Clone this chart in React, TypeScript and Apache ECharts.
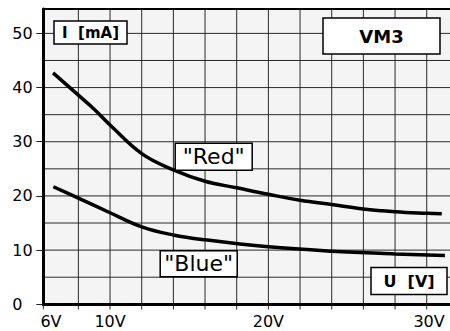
import React, { useEffect, useRef } from "react";
import * as echarts from "echarts";

// Data
const redCurve: [number, number][] = [
  [6.4, 42.7], [8, 38.6], [9, 36.0], [10, 33.1], [12, 27.8], [14, 24.8],
  [16, 22.7], [18, 21.5], [20, 20.3], [22, 19.2], [24, 18.4], [26, 17.6],
  [28, 17.1], [30, 16.8], [30.95, 16.7],
];
const blueCurve: [number, number][] = [
  [6.42, 21.7], [8, 19.6], [10, 16.9], [12, 14.3], [14, 12.8], [16, 11.9],
  [20, 10.6], [24, 9.8], [28, 9.3], [31.15, 9.0],
];
const xTickValues = [5.785, 8, 10, 12, 14, 16, 18, 20, 22, 24, 26, 28, 30];
const yGridValues = [5, 10, 15, 20, 25, 30, 35, 40, 45, 50];
const xLabelPositions = [6.27, 10, 20, 30.15];
const xLabelTexts = ["6V", "10V", "20V", "30V"];
const yTickValues = [0, 10, 20, 30, 40, 50];
const xMin = 5.785;
const xMax = 31.47;
const yMin = 0;
const yMax = 54.5;
const xTickBelow = -0.95;

const FONT = '"DejaVu Sans", sans-serif';
const GRID_LEFT = 43.3;
const GRID_TOP = 9;
const GRID_BOTTOM = 26.7;
const GRID_COLOR = "#2a2a2a";

function box(cx: number, cy: number, w: number, h: number, text: string, font: string) {
  return {
    type: "group",
    children: [
      {
        type: "rect",
        shape: { x: cx - w / 2, y: cy - h / 2, width: w, height: h },
        style: { fill: "#ffffff", stroke: "#000000", lineWidth: 1.5 },
        z: 10,
      },
      {
        type: "text",
        x: cx,
        y: cy,
        style: {
          text,
          font,
          fill: "#000000",
          align: "center",
          verticalAlign: "middle",
          textAlign: "center",
          textVerticalAlign: "middle",
        },
        z: 11,
      },
    ],
  };
}

function gridLineSeries(data: [number, number][]) {
  return {
    type: "line",
    data,
    symbol: "none",
    showSymbol: false,
    silent: true,
    clip: false,
    smooth: false,
    emphasis: { disabled: true },
    lineStyle: { color: GRID_COLOR, width: 1 },
    z: 2,
  };
}

export default function App() {
  const ref = useRef<HTMLDivElement>(null);
  useEffect(() => {
    if (!ref.current) return;
    const chart = echarts.init(ref.current, null, { renderer: "svg" });
    const vGrid = xTickValues.map((v) =>
      gridLineSeries([
        [v, xTickBelow],
        [v, yMax],
      ])
    );
    const hGrid = yGridValues.map((h) =>
      gridLineSeries([
        [xMin, h],
        [xMax, h],
      ])
    );
    const option: any = {
      animation: false,
      grid: {
        left: GRID_LEFT,
        top: GRID_TOP,
        right: 0,
        bottom: GRID_BOTTOM,
      },
      xAxis: [
        {
          type: "value",
          min: xMin,
          max: xMax,
          axisLine: { show: true, onZero: false, lineStyle: { color: "#000", width: 3 } },
          axisTick: { show: false },
          axisLabel: {
            show: true,
            customValues: xLabelPositions,
            formatter: (v: number) => {
              const i = xLabelPositions.findIndex((p) => Math.abs(p - v) < 1e-6);
              return i >= 0 ? xLabelTexts[i] : "";
            },
            color: "#000",
            fontFamily: FONT,
            fontSize: 16,
            margin: 9,
          },
          splitLine: { show: false },
          z: 5,
        },
        {
          type: "value",
          position: "top",
          min: xMin,
          max: xMax,
          axisLine: { show: true, onZero: false, lineStyle: { color: "#000", width: 2 } },
          axisTick: { show: false },
          axisLabel: { show: false },
          splitLine: { show: false },
          z: 5,
        },
      ],
      yAxis: [
        {
          type: "value",
          min: yMin,
          max: yMax,
          axisLine: { show: true, onZero: false, lineStyle: { color: "#000", width: 3 } },
          axisTick: {
            show: true,
            length: 7,
            customValues: yTickValues,
            lineStyle: { color: "#222", width: 1 },
          },
          axisLabel: {
            show: true,
            customValues: yTickValues,
            color: "#000",
            fontFamily: FONT,
            fontSize: 16,
            align: "left",
            margin: 31,
          },
          splitLine: { show: false },
          z: 5,
        },
      ],
      series: [
        ...vGrid,
        ...hGrid,
        {
          type: "line",
          name: "Red",
          data: redCurve,
          smooth: 0.4,
          showSymbol: false,
          lineStyle: { color: "#000", width: 3.5 },
          z: 6,
        },
        {
          type: "line",
          name: "Blue",
          data: blueCurve,
          smooth: 0.4,
          showSymbol: false,
          lineStyle: { color: "#000", width: 3.5 },
          z: 6,
        },
      ],
      graphic: [
        box(90.5, 32.5, 73, 23, "I  [mA]", `bold 15px ${FONT}`),
        box(381.5, 36, 117, 36, "VM3", `bold 18px ${FONT}`),
        box(213.7, 156.7, 77, 27, '"Red"', `22px ${FONT}`),
        box(198.7, 263.7, 77, 26, '"Blue"', `22px ${FONT}`),
        box(409, 281, 76, 27, "U  [V]", `bold 16px ${FONT}`),
      ],
    };
    chart.setOption(option);
    return () => chart.dispose();
  }, []);
  return (
    <div style={{ position: "absolute", left: 0, top: 0, width: 450, height: 331, background: "#ffffff" }}>
      <div
        style={{
          position: "absolute",
          left: GRID_LEFT,
          top: GRID_TOP,
          width: 450 - GRID_LEFT,
          height: 331 - GRID_TOP - GRID_BOTTOM,
          background: "#f4f4f4",
        }}
      />
      <div ref={ref} style={{ position: "absolute", left: 0, top: 0, width: 450, height: 331 }} />
    </div>
  );
}
